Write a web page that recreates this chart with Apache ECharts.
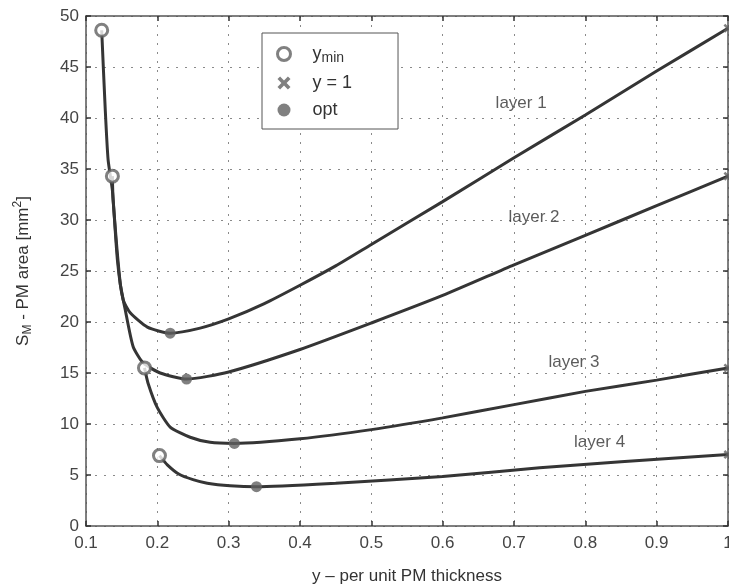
<!DOCTYPE html>
<html>
<head>
<meta charset="utf-8">
<script src="https://cdn.jsdelivr.net/npm/echarts@6/dist/echarts.min.js"></script>
<style>
  html, body { margin: 0; padding: 0; background: #fff; }
  #chart { width: 729px; height: 587px; }
</style>
</head>
<body>
<div id="chart"></div>
<script>
// curves: [y per unit, area mm^2]
var layer1 = [[0.122, 48.6], [0.127, 40.8], [0.131, 35.9], [0.137, 32.9], [0.144, 26.1], [0.152, 22.2],
    [0.162, 20.9], [0.186, 19.5], [0.218, 18.9], [0.26, 19.4], [0.30, 20.3], [0.35, 21.8], [0.40, 23.6],
    [0.45, 25.5], [0.50, 27.6], [0.60, 31.8], [0.70, 36.1], [0.80, 40.3], [0.90, 44.6], [1.0, 48.8]];
var layer2 = [[0.137, 34.3], [0.138, 32.0], [0.148, 23.8], [0.155, 21.2], [0.166, 17.6], [0.180, 16.0],
    [0.204, 15.0], [0.241, 14.4], [0.30, 15.1], [0.40, 17.3], [0.50, 19.9], [0.60, 22.6],
    [0.70, 25.6], [0.80, 28.5], [0.90, 31.4], [1.0, 34.3]];
var layer3 = [[0.182, 15.5], [0.187, 14.0], [0.200, 11.6], [0.218, 9.7], [0.246, 8.7], [0.274, 8.2],
    [0.308, 8.1], [0.40, 8.55], [0.50, 9.45], [0.60, 10.6], [0.70, 11.9], [0.80, 13.2],
    [0.90, 14.3], [1.0, 15.5]];
var layer4 = [[0.203, 6.9], [0.214, 6.0], [0.23, 5.1], [0.25, 4.55], [0.27, 4.2], [0.302, 3.95], [0.339, 3.85],
    [0.45, 4.2], [0.60, 4.85], [0.736, 5.7], [0.85, 6.3], [1.0, 7.0]];

var yminPts = [[0.122, 48.6], [0.137, 34.3], [0.182, 15.5], [0.203, 6.9]];
var y1Pts = [[1.0, 48.8], [1.0, 34.3], [1.0, 15.5], [1.0, 7.0]];
var optPts = [[0.218, 18.9], [0.241, 14.4], [0.308, 8.1], [0.339, 3.85]];

var layerNames = ['layer 1', 'layer 2', 'layer 3', 'layer 4'];
var layerLabelPos = [[0.71, 41.4], [0.728, 30.3], [0.784, 16.0], [0.82, 8.2]];

var lineColor = '#353535';
var markColor = '#606060';
var font = 'Liberation Sans, Arial, sans-serif';
var crossPath = 'path://M2,0 L5,3 L8,0 L10,2 L7,5 L10,8 L8,10 L5,7 L2,10 L0,8 L3,5 L0,2 Z';

function curve(data) {
    return {
        type: 'line',
        data: data,
        smooth: 0.2,
        showSymbol: false,
        silent: true,
        lineStyle: { color: lineColor, width: 3 },
        z: 2
    };
}

var gridLine = { show: true, lineStyle: { color: '#8a8a8a', type: [2, 7], width: 1 } };
var frame = { show: true, onZero: false, lineStyle: { color: '#555', width: 1.5 } };
var tick = { show: true, inside: true, length: 5, lineStyle: { color: '#333', width: 1.5 } };

var chart = echarts.init(document.getElementById('chart'));

chart.setOption({
    animation: false,
    backgroundColor: '#fff',
    grid: { left: 86, right: 1, top: 16, bottom: 61, outerBoundsMode: 'none', containLabel: false },
    legend: {
        orient: 'vertical',
        left: 262,
        top: 33,
        padding: [12, 46, 10, 14],
        itemGap: 9,
        itemWidth: 13,
        itemHeight: 13,
        borderColor: '#555',
        borderWidth: 1,
        backgroundColor: '#fff',
        selectedMode: false,
        data: [
            { name: 'ymin', icon: 'circle', itemStyle: { color: '#fff', borderColor: markColor, borderWidth: 3 } },
            { name: 'y = 1', icon: crossPath, itemStyle: { color: markColor } },
            { name: 'opt', icon: 'circle', itemStyle: { color: markColor } }
        ],
        formatter: function (name) {
            if (name === 'ymin') return '{a|y}{b|min}';
            return '{a|' + name + '}';
        },
        textStyle: {
            fontFamily: font,
            color: '#333',
            padding: [0, 0, 0, 17],
            rich: {
                a: { fontSize: 18, fontFamily: font, color: '#333' },
                b: { fontSize: 14, fontFamily: font, color: '#333', padding: [8, 0, 0, 0] }
            }
        }
    },
    xAxis: [{
        type: 'value',
        min: 0.1,
        max: 1,
        interval: 0.1,
        name: 'y \u2013 per unit PM thickness',
        nameLocation: 'middle',
        nameGap: 42,
        nameTextStyle: { fontFamily: font, fontSize: 17, color: '#333' },
        axisLine: frame,
        axisTick: tick,
        splitLine: gridLine,
        axisLabel: { fontFamily: font, fontSize: 17, color: '#444', margin: 9 }
    }, {
        type: 'value',
        position: 'top',
        min: 0.1,
        max: 1,
        interval: 0.1,
        axisLine: frame,
        axisTick: tick,
        axisLabel: { show: false },
        splitLine: { show: false }
    }],
    yAxis: [{
        type: 'value',
        min: 0,
        max: 50,
        interval: 5,
        name: '{t|S}{sub|M}{t| - PM area [mm}{sup|2}{t|]}',
        nameLocation: 'middle',
        nameGap: 52,
        nameTextStyle: {
            fontFamily: font,
            color: '#333',
            rich: {
                t: { fontSize: 17, fontFamily: font, color: '#333' },
                sub: { fontSize: 12, fontFamily: font, color: '#333', padding: [10, 0, 0, 0] },
                sup: { fontSize: 12, fontFamily: font, color: '#333', padding: [0, 0, 10, 0] }
            }
        },
        axisLine: frame,
        axisTick: tick,
        splitLine: gridLine,
        axisLabel: { fontFamily: font, fontSize: 17, color: '#444', margin: 7 }
    }, {
        type: 'value',
        position: 'right',
        min: 0,
        max: 50,
        interval: 5,
        axisLine: frame,
        axisTick: tick,
        axisLabel: { show: false },
        splitLine: { show: false }
    }],
    series: [
        curve(layer1),
        curve(layer2),
        curve(layer3),
        curve(layer4),
        {
            name: 'ymin',
            type: 'scatter',
            data: yminPts,
            symbol: 'circle',
            symbolSize: 12,
            itemStyle: { color: '#fff', borderColor: markColor, borderWidth: 3 },
            z: 3
        },
        {
            name: 'y = 1',
            type: 'scatter',
            data: y1Pts,
            symbol: crossPath,
            symbolSize: 9,
            itemStyle: { color: markColor },
            z: 3
        },
        {
            name: 'opt',
            type: 'scatter',
            data: optPts,
            symbol: 'circle',
            symbolSize: 11,
            itemStyle: { color: markColor },
            z: 3
        },
        {
            name: 'labels',
            type: 'scatter',
            symbolSize: 0,
            silent: true,
            data: layerNames.map(function (n, i) {
                return { name: n, value: layerLabelPos[i] };
            }),
            label: {
                show: true,
                position: 'inside',
                formatter: '{b}',
                fontFamily: font,
                fontSize: 17,
                color: '#333'
            }
        }
    ]
});
</script>
</body>
</html>
